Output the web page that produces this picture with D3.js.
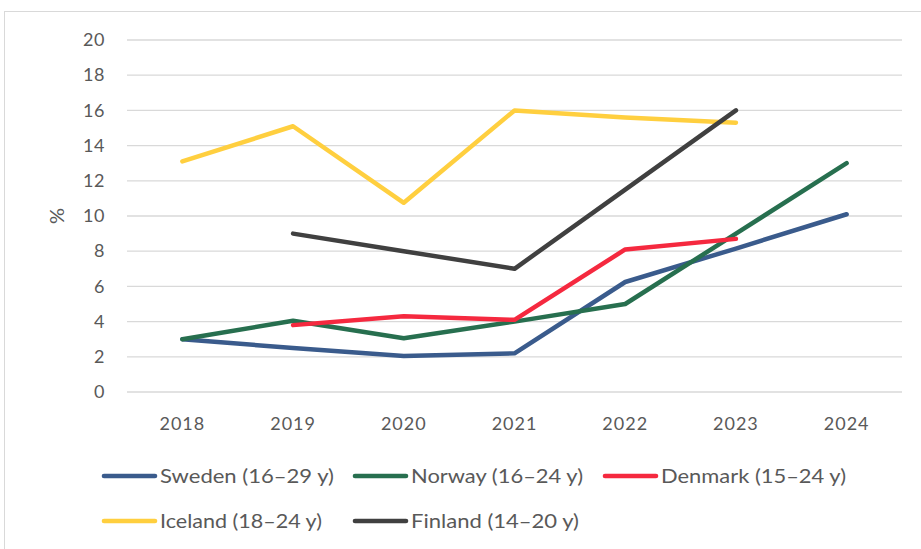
<!DOCTYPE html>
<html><head><meta charset="utf-8">
<script src="https://cdn.jsdelivr.net/npm/d3@7"></script>
<style>body{margin:0;background:#fff}svg{display:block;font-family:Lato,"Open Sans",sans-serif}</style>
</head><body>
<svg id="c" width="921" height="549"></svg>
<script>
const years = ["2018","2019","2020","2021","2022","2023","2024"];
const yTicks = [0,2,4,6,8,10,12,14,16,18,20];
const sweden  = [3.0, 2.5, 2.05, 2.2, 6.25, 8.15, 10.1];
const norway  = [3.0, 4.05, 3.05, 4.0, 5.0, 9.0, 13.0];
const denmark = [null, 3.8, 4.3, 4.1, 8.1, 8.7, null];
const iceland = [13.1, 15.1, 10.75, 16.0, 15.6, 15.3, null];
const finland = [null, 9.0, 8.0, 7.0, 11.5, 16.0, null];
const seriesNames = ["Sweden (16–29 y)","Norway (16–24 y)","Denmark (15–24 y)","Iceland (18–24 y)","Finland (14–20 y)"];
const seriesColors = ["#3A5B8C","#276F4F","#F5293F","#FFCF3F","#404040"];
const seriesValues = [sweden, norway, denmark, iceland, finland];

const svg = d3.select("#c");
svg.append("rect").attr("x",4.5).attr("y",11.5).attr("width",940).attr("height",560)
  .attr("fill","#fff").attr("stroke","#d9d9d9").attr("stroke-width",1);

const x = d3.scaleBand().domain(years).range([127,902]);
const y = d3.scaleLinear().domain([0,20]).range([392,40]);

svg.append("g").selectAll("line").data(yTicks).join("line")
  .attr("x1",127).attr("x2",902).attr("y1",d=>y(d)).attr("y2",d=>y(d))
  .attr("stroke","#d9d9d9").attr("stroke-width",1.3);

const yAxis = svg.append("g").attr("transform","translate(105,0)")
  .call(d3.axisLeft(y).tickValues(yTicks).tickSize(0).tickPadding(0));
yAxis.select(".domain").remove();
yAxis.selectAll("text").attr("font-size",18).attr("fill","#595959").attr("font-family","Lato").attr("letter-spacing",0.5);

const xAxis = svg.append("g").attr("transform","translate(0,414)")
  .call(d3.axisBottom(x).tickSize(0).tickPadding(3));
xAxis.select(".domain").remove();
xAxis.selectAll("text").attr("font-size",18).attr("fill","#595959").attr("font-family","Lato").attr("letter-spacing",1);

svg.append("text").attr("transform","translate(64,216) rotate(-90)")
  .attr("text-anchor","middle").attr("font-size",20).attr("fill","#595959").text("%");

const line = d3.line().defined(d=>d.v!=null).x(d=>x(d.k)+x.bandwidth()/2).y(d=>y(d.v));
seriesValues.forEach((vals,i)=>{
  svg.append("path").datum(years.map((k,j)=>({k,v:vals[j]})))
    .attr("d",line).attr("fill","none").attr("stroke",seriesColors[i])
    .attr("stroke-width",4.5).attr("stroke-linejoin","round").attr("stroke-linecap","round");
});

const legPos = [[104,476],[355,476],[605,476],[104,521],[355,521]];
const legW = [174,172,185,162,168];
seriesNames.forEach((n,i)=>{
  const [lx,ly] = legPos[i];
  const g = svg.append("g").attr("transform",`translate(${lx},${ly})`);
  g.append("line").attr("x1",0).attr("x2",51).attr("y1",0).attr("y2",0)
    .attr("stroke",seriesColors[i]).attr("stroke-width",4.6).attr("stroke-linecap","round");
  g.append("text").attr("x",56).attr("y",0).attr("dy","0.35em")
    .attr("font-size",20).attr("fill","#595959")
    .attr("textLength",legW[i]).attr("lengthAdjust","spacingAndGlyphs").text(n);
});
</script>
</body></html>
